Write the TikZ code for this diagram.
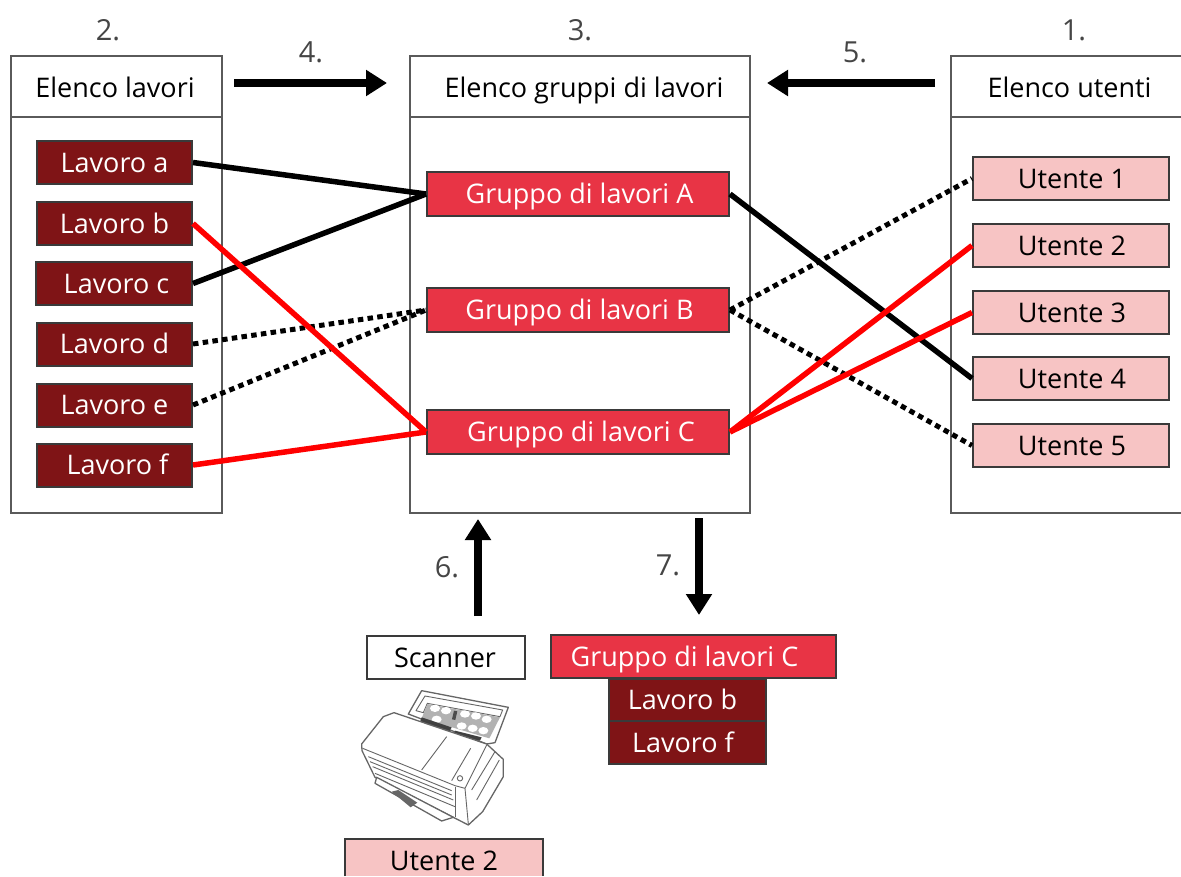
\documentclass[tikz,border=0pt]{standalone}
\usepackage{fontspec}
\setmainfont{Open Sans}
\usetikzlibrary{arrows.meta}
\definecolor{darkred}{HTML}{7F1416}
\definecolor{midred}{HTML}{E83445}
\definecolor{pinkbox}{HTML}{F7C4C4}
\definecolor{edgegrey}{HTML}{3A3A3A}
\definecolor{panelgrey}{HTML}{5A5A5A}
\definecolor{linkred}{HTML}{FF0000}
\definecolor{numgrey}{HTML}{454545}
\tikzset{
  x=1pt,y=-1pt,
  panel/.style={draw=panelgrey,line width=2.8pt,fill=white},
  itembox/.style={draw=edgegrey,line width=2pt,inner sep=0pt,font=\fontsize{27}{30}\selectfont,text height=19.5pt,text depth=0pt,anchor=center},
  job/.style={itembox,fill=darkred,text=white,minimum width=155pt,minimum height=43pt},
  group/.style={itembox,fill=midred,text=white,minimum width=302pt,minimum height=44pt},
  user/.style={itembox,fill=pinkbox,text=black,minimum width=196pt,minimum height=43pt},
  head/.style={font=\fontsize{27}{30}\selectfont,text=black,inner sep=0pt,text height=19.5pt,text depth=0pt},
  num/.style={font=\fontsize{29}{32}\selectfont,text=numgrey,inner sep=0pt,text height=21pt,text depth=0pt},
  solidlink/.style={line width=5.5pt,black},
  redlink/.style={line width=5.5pt,linkred},
  dotlink/.style={line width=5pt,black,dash pattern=on 5.5pt off 4.3pt},
  bigarrow/.style={line width=7.5pt,black,-{Triangle[length=21pt,width=25pt]}},
  sketch/.style={draw=black!60,line width=.9pt,line join=round},
}
\begin{document}
\begin{tikzpicture}
\useasboundingbox (0,0) rectangle (1181,876);
% panels
\draw[panel] (11,56) rectangle (222,513);
\draw[panel] (11,117) -- (222,117);
\draw[panel] (410,56) rectangle (750,513);
\draw[panel] (410,117) -- (750,117);
\draw[panel] (1181,56) -- (951,56) -- (951,513) -- (1181,513);
\draw[panel] (951,117) -- (1181,117);
\node[head] (hjobs) at (115,87.5) {Elenco lavori};
\node[head] (hgroups) at (584,87.5) {Elenco gruppi di lavori};
\node[head] (husers) at (1069.5,87.5) {Elenco utenti};
% numbers
\node[num] (n2) at (108,30) {2.};
\node[num] (n3) at (580,30) {3.};
\node[num] (n1) at (1074,30) {1.};
\node[num] (n4) at (311,52) {4.};
\node[num] (n5) at (855,52) {5.};
\node[num] (n6) at (447,567) {6.};
\node[num] (n7) at (668,565) {7.};
% items
\node[job] (ja) at (114.5,162.5) {Lavoro a};
\node[job] (jb) at (114.5,223.5) {Lavoro b};
\node[job,minimum width=156pt] (jc) at (114,283.5) {\hspace*{5pt}Lavoro c};
\node[job] (jd) at (114.5,344) {Lavoro d};
\node[job] (je) at (114.5,405) {Lavoro e};
\node[job] (jf) at (114.5,465) {\hspace*{6pt}Lavoro f};
\node[group] (ga) at (578,194) {\hspace*{3pt}Gruppo di lavori A};
\node[group] (gb) at (578,310) {\hspace*{3pt}Gruppo di lavori B};
\node[group] (gc) at (578,432) {\hspace*{6pt}Gruppo di lavori C};
\node[user] (u1) at (1071,178.5) {\hspace*{2pt}Utente 1};
\node[user] (u2) at (1071,245.5) {\hspace*{2pt}Utente 2};
\node[user] (u3) at (1071,312.5) {\hspace*{2pt}Utente 3};
\node[user] (u4) at (1071,378.5) {\hspace*{2pt}Utente 4};
\node[user] (u5) at (1071,445.5) {\hspace*{2pt}Utente 5};
% links
\draw[solidlink] (ja.east) -- (ga.west);
\draw[solidlink] (jc.east) -- (ga.west);
\draw[dotlink] (jd.east) -- (gb.west);
\draw[dotlink] (je.east) -- (gb.west);
\draw[redlink] (jb.east) -- (gc.west);
\draw[redlink] (jf.east) -- (gc.west);
\draw[solidlink] (ga.east) -- (u4.west);
\draw[dotlink] (gb.east) -- (u1.west);
\draw[dotlink] (gb.east) -- (u5.west);
\draw[redlink] (gc.east) -- (u2.west);
\draw[redlink] (gc.east) -- (u3.west);
% big arrows
\coordinate (a4s) at (234,83); \coordinate (a4e) at (387,83);
\coordinate (a5s) at (935,83); \coordinate (a5e) at (767,83);
\coordinate (a6s) at (478,616); \coordinate (a6e) at (478,519);
\coordinate (a7s) at (699,518); \coordinate (a7e) at (699,615);
\draw[bigarrow] (a4s) -- (a4e);
\draw[bigarrow] (a5s) -- (a5e);
\draw[bigarrow] (a6s) -- (a6e);
\draw[bigarrow] (a7s) -- (a7e);
% bottom blocks
\node[itembox,fill=white,minimum width=158pt,minimum height=43pt] (scan) at (446,657.5) {Scanner\hspace*{2pt}};
\node[group,minimum width=285pt,minimum height=43pt] (gc2) at (693,656.5) {Gruppo di lavori C\hspace*{17pt}};
\node[job,minimum width=157pt,minimum height=42pt] (jb2) at (687.5,700) {Lavoro b\hspace*{10pt}};
\node[job,minimum width=157pt,minimum height=43pt] (jf2) at (687.5,742.5) {Lavoro f\hspace*{9pt}};
\draw[draw=edgegrey,line width=2pt,fill=pinkbox] (345,876) -- (345,839) -- (543,839) -- (543,876);
\node[head] (u2b) at (444,861) {Utente 2};
% scanner sketch (coordinates in 1/3 px)
\begin{scope}[shift={(340,620)},x=.3333pt,y=-.3333pt]
\draw[sketch,line width=1.3pt,fill=white] (205,282) -- (245,212) -- (505,262) -- (465,368) -- (440,372) -- cycle;
\draw[sketch,fill=white] (228,272) -- (255,228) -- (488,270) -- (480,290) -- (262,250) -- (250,278) -- cycle;
\fill[black!30] (262,252) -- (480,292) -- (448,355) -- (245,295) -- cycle;
\foreach \cx/\cy in {285/265,318/272,375/282,408/288,440/298,365/318,398/325,430/332,290/298}
  \fill[white] (\cx,\cy) ellipse (15 and 11);
\fill[black!75] (245,292) -- (335,322) -- (328,335) -- (240,305) -- cycle;
\fill[black!75] (345,332) -- (425,352) -- (420,362) -- (340,345) -- cycle;
\fill[black!70] (342,272) -- (352,274) -- (346,300) -- (336,298) -- cycle;
\draw[sketch,line width=1.3pt,fill=white] (65,372) -- (130,290) -- (162,278) -- (440,372) -- (490,418) -- (490,470) -- (428,575) -- (385,615) -- (340,592) -- (105,472) -- (66,392) -- cycle;
\draw[sketch] (68,385) -- (345,497) -- (375,505) -- (440,375);
\draw[sketch] (85,410) -- (335,512);
\draw[sketch] (90,425) -- (335,525);
\draw[sketch] (98,440) -- (340,540);
\draw[sketch] (105,460) -- (345,560);
\draw[sketch] (245,450) -- (320,350);
\draw[sketch] (335,482) -- (392,385);
\draw[sketch] (375,505) -- (385,612);
\draw[sketch] (345,500) -- (345,590);
\draw[sketch] (395,510) -- (465,395);
\draw[sketch] (410,540) -- (478,420);
\draw[sketch] (360,475) circle (8);
\draw[sketch,line width=1.3pt,fill=white] (110,472) -- (105,490) -- (305,603) -- (340,592) -- cycle;
\fill[black!60] (155,515) -- (175,510) -- (232,548) -- (212,562) -- cycle;
\end{scope}
\end{tikzpicture}
\end{document}
